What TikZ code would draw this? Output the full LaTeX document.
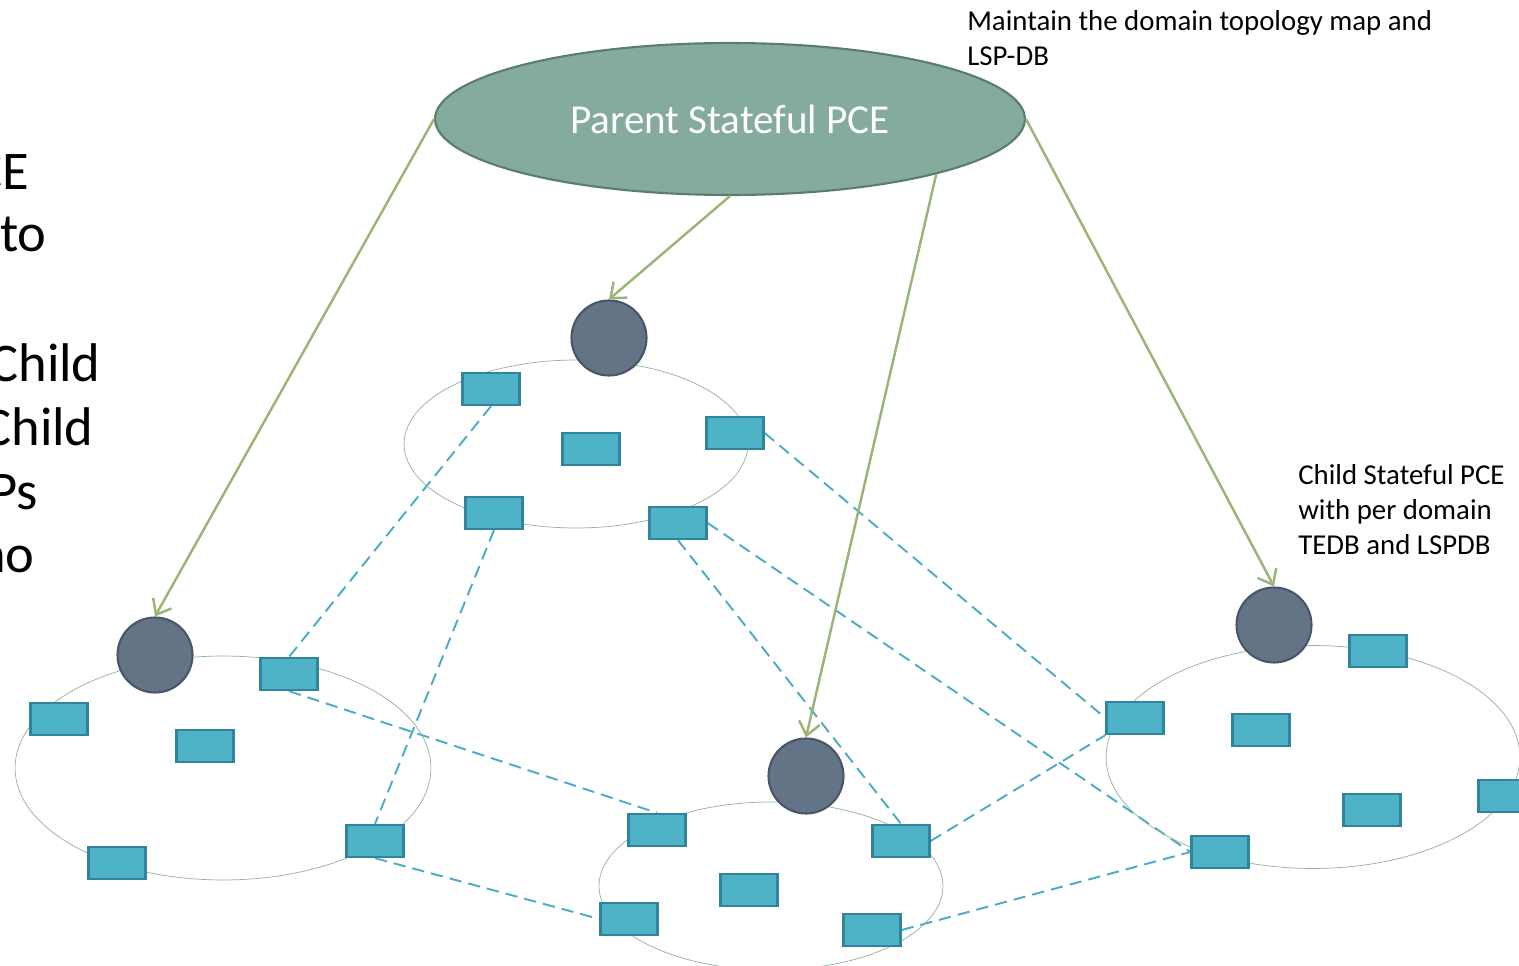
\documentclass[tikz,border=0pt]{standalone}
\usepackage{fontspec}
\setmainfont{Carlito}
\usetikzlibrary{shapes.geometric, arrows.meta, backgrounds}

\definecolor{parentfill}{HTML}{84AB9B}
\definecolor{parentline}{HTML}{5A7D6E}
\definecolor{childfill}{HTML}{647487}
\definecolor{childline}{HTML}{4A5668}
\definecolor{lsrfill}{HTML}{4FB3C8}
\definecolor{lsrline}{HTML}{31849B}
\definecolor{domline}{HTML}{8FB0A4}
\definecolor{linkblue}{HTML}{4BACC6}
\definecolor{ctrlgreen}{HTML}{9BB577}

\begin{document}
\begin{tikzpicture}[x=0.02cm, y=-0.02cm,
        domring/.style={draw=domline, ellipse, inner sep=0pt},
        lsr/.style={draw=lsrline, fill=lsrfill, line width=1.3pt, minimum width=1.14cm, minimum height=0.64cm, inner sep=0pt},
        child/.style={circle, draw=childline, fill=childfill, line width=1.2pt, minimum size=1.5cm, inner sep=0pt},
        link/.style={draw=linkblue, line width=1.1pt, dash pattern=on 7pt off 4pt},
        ctrl/.style={draw=ctrlgreen, line width=1.4pt, -{Straight Barb[length=7.5pt, width=12pt]}},
        note/.style={font=\fontsize{16.4}{20.1}\selectfont, align=left, anchor=north west, inner sep=0pt},
        bigtext/.style={font=\fontsize{31}{37}\selectfont, anchor=base east, inner sep=0pt}
    ]
        \useasboundingbox (0,0) rectangle (1519,966);

        % left text, cut by the page edge
        \node[bigtext] (t1) at (29,190) {CE};
        \node[bigtext] (t2) at (47,252) {to};
        \node[bigtext] (t3) at (101,381) {Child};
        \node[bigtext] (t4) at (94,445) {Child};
        \node[bigtext] (t5) at (38,509) {Ps};
        \node[bigtext] (t6) at (35,572) {no};

        % domains
        \node[domring, minimum width=6.88cm, minimum height=3.36cm] (dtop) at (576,444) {};
        \node[domring, minimum width=8.32cm, minimum height=4.48cm] (dleft) at (223,768) {};
        \node[domring, minimum width=6.88cm, minimum height=3.36cm] (dbot) at (771,886) {};
        \node[domring, minimum width=8.28cm, minimum height=4.46cm] (dright) at (1313,757) {};

        % parent PCE
        \node[ellipse, draw=parentline, fill=parentfill, line width=1.2pt, minimum width=11.8cm, minimum height=3.04cm,
              text=white, font=\fontsize{23.4}{28}\selectfont] (parent) at (730,119) {\raisebox{-1.5pt}{Parent Stateful PCE}};

        \node[note] (maptext) at (967,10) {Maintain the domain topology map and\\LSP-DB};
        \node[note] (childtext) at (1298,464) {Child Stateful PCE\\with per domain\\TEDB and LSPDB};

        % routers, top domain
        \node[lsr] (a1) at (491,389) {};
        \node[lsr] (a2) at (591,449) {};
        \node[lsr] (a3) at (735,433) {};
        \node[lsr] (a4) at (494,513) {};
        \node[lsr] (a5) at (678,523) {};
        % left domain
        \node[lsr] (b1) at (59,719) {};
        \node[lsr] (b2) at (205,746) {};
        \node[lsr] (b3) at (289,674) {};
        \node[lsr] (b4) at (117,863) {};
        \node[lsr] (b5) at (375,841) {};
        % bottom domain
        \node[lsr] (c1) at (657,830) {};
        \node[lsr] (c2) at (749,890) {};
        \node[lsr] (c3) at (901,841) {};
        \node[lsr] (c4) at (629,919) {};
        \node[lsr] (c5) at (872,930) {};
        % right domain
        \node[lsr] (d1) at (1378,651) {};
        \node[lsr] (d2) at (1135,718) {};
        \node[lsr] (d3) at (1261,730) {};
        \node[lsr] (d4) at (1372,810) {};
        \node[lsr] (d5) at (1507,796) {};
        \node[lsr] (d6) at (1220,852) {};

        % child PCEs
        \node[child] (ctop) at (609,338) {};
        \node[child] (cleft) at (155,655) {};
        \node[child] (cbot) at (806,776) {};
        \node[child] (cright) at (1274,625) {};

        % inter-domain links
        \begin{scope}[on background layer]
            \draw[link] (a1.south) -- (b3.north);
            \draw[link] (a4.south) -- (b5.north);
            \draw[link] (a3.east) -- (d2.west);
            \draw[link] (a5.east) -- (d6.west);
            \draw[link] (a5.south) -- (c3.north);
            \draw[link] (b3.south) -- (c1.north);
            \draw[link] (b5.south) -- (c4.west);
            \draw[link] (c3.east) -- (d2.south west);
            \draw[link] (c5.east) -- (d6.west);
        \end{scope}

        % parent to child
        \draw[ctrl] (parent.west) -- (cleft.north);
        \draw[ctrl] (parent.south) -- (ctop.north);
        \draw[ctrl] (parent.-15.3) -- (cbot.north);
        \draw[ctrl] (parent.east) -- (cright.north);

    \end{tikzpicture}
\end{document}
